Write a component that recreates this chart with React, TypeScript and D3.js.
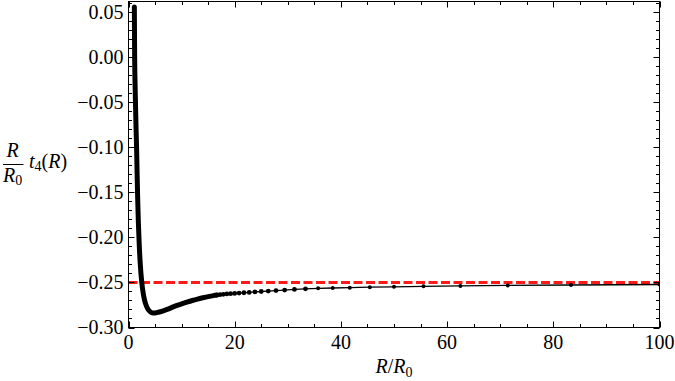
import React from 'react';
import * as d3 from 'd3';

// dense part of the curve (points merge into a thick stroke)
const denseR = [1.10, 1.13, 1.16, 1.24, 1.32, 1.42, 1.52, 1.62, 1.72, 1.85, 2.0, 2.2, 2.5, 2.8, 3.0, 3.3, 3.7, 4.2, 4.7, 5.3, 6.0, 7.0, 8.0, 9.0, 10.0, 11.0, 12.0, 13.0, 14.0, 15.0, 16.0, 16.67];
const denseT = [0.056, 0.025, 0.0, -0.03, -0.052, -0.078, -0.1, -0.128, -0.155, -0.182, -0.205, -0.228, -0.25, -0.263, -0.269, -0.275, -0.28, -0.283, -0.284, -0.2835, -0.2825, -0.2805, -0.2782, -0.2757, -0.2737, -0.2718, -0.27, -0.2684, -0.267, -0.2657, -0.2646, -0.264];

// sparse tail, individual markers visible
const tailR = [16.67, 17.24, 17.86, 18.52, 19.23, 20.0, 20.83, 21.74, 22.73, 23.81, 25.0, 26.32, 27.78, 29.41, 31.25, 33.33, 35.71, 38.46, 41.67, 45.45, 50.0, 55.56, 62.5, 71.43, 83.33, 100];
const tailT = [-0.264, -0.2635, -0.2631, -0.2627, -0.2624, -0.2621, -0.2618, -0.2614, -0.261, -0.2605, -0.26, -0.2595, -0.259, -0.2584, -0.2577, -0.257, -0.2565, -0.2561, -0.2557, -0.2552, -0.2548, -0.2543, -0.2538, -0.2533, -0.2528, -0.2522];

const xTicks = [0, 20, 40, 60, 80, 100];
const yTicks = [-0.3, -0.25, -0.2, -0.15, -0.1, -0.05, 0, 0.05];
const refLevel = -0.25;

const width = 675;
const height = 381;
const font = '"Liberation Serif"';

type Pt = [number, number];

const x = d3.scaleLinear().domain([0, 100]).range([128.5, 659.5]);
const y = d3.scaleLinear().domain([-0.3, 0.0622]).range([327.5, 1.5]);
const [x0, x1] = x.range();
const [y0, y1] = y.range();

const App = () => {
  const dense: Pt[] = denseR.map((r, i) => [r, denseT[i]]);
  const tail: Pt[] = tailR.map((r, i) => [r, tailT[i]]);

  const smooth = d3.line<Pt>().x(d => x(d[0])).y(d => y(d[1])).curve(d3.curveMonotoneX);
  const straight = d3.line<Pt>().x(d => x(d[0])).y(d => y(d[1]));

  const xMinor = d3.range(0, 101, 5).filter(v => !xTicks.includes(v));
  const yMinor = d3.range(-30, 7, 1).map(v => v / 100)
    .filter(v => !yTicks.some(t => Math.abs(t - v) < 1e-9) && y(v) >= y1);

  const xt = [...xTicks.map(v => ({ v, len: 6 })), ...xMinor.map(v => ({ v, len: 3.5 }))];
  const yt = [...yTicks.map(v => ({ v, len: 6 })), ...yMinor.map(v => ({ v, len: 3.5 }))];

  const txt = { fontFamily: font, fill: '#000' };

  return (
    <svg
      width={width}
      height={height}
      style={{ position: 'absolute', left: 0, top: 0, background: '#fff' }}
    >
      <defs>
        <clipPath id="plot-clip">
          <rect x={x0} y={y1} width={x1 - x0} height={y0 - y1} />
        </clipPath>
      </defs>

      <g clipPath="url(#plot-clip)">
        <line
          x1={x0} x2={x1} y1={y(refLevel)} y2={y(refLevel)}
          stroke="#ff1a1a" strokeWidth={3} strokeDasharray="9,3.5"
        />
        <path d={straight(tail) ?? ''} fill="none" stroke="#000" strokeWidth={1.3} />
        <path
          d={smooth(dense) ?? ''} fill="none" stroke="#000" strokeWidth={5}
          strokeLinejoin="round" strokeLinecap="round"
        />
        {tail.map((d, i) => (
          <circle key={i} cx={x(d[0])} cy={y(d[1])} r={d[0] < 34 ? 2.4 : 2} fill="#000" />
        ))}
      </g>

      <rect x={x0} y={y1} width={x1 - x0} height={y0 - y1} fill="none" stroke="#000" strokeWidth={1} />

      <g stroke="#000" strokeWidth={1}>
        {xt.map(({ v, len }) => {
          const px = Math.round(x(v)) + 0.5;
          return (
            <g key={'x' + v}>
              <line x1={px} x2={px} y1={y0} y2={y0 - len} />
              <line x1={px} x2={px} y1={y1} y2={y1 + len} />
            </g>
          );
        })}
        {yt.map(({ v, len }) => {
          const py = Math.round(y(v)) + 0.5;
          return (
            <g key={'y' + v}>
              <line x1={x0} x2={x0 + len} y1={py} y2={py} />
              <line x1={x1} x2={x1 - len} y1={py} y2={py} />
            </g>
          );
        })}
      </g>

      {yTicks.map(v => (
        <text key={'yl' + v} x={x0 - 5} y={y(v)} dy="0.34em" textAnchor="end" fontSize={20} style={txt}>
          {(v < 0 ? '\u2212' : '') + Math.abs(v).toFixed(2)}
        </text>
      ))}
      {xTicks.map(v => (
        <text key={'xl' + v} x={x(v)} y={349} textAnchor="middle" fontSize={20} style={txt}>
          {String(v)}
        </text>
      ))}

      {/* x-axis title */}
      <text x={(x0 + x1) / 2} y={373} textAnchor="middle" fontSize={20} style={txt}>
        <tspan fontStyle="italic">R</tspan>
        <tspan>/</tspan>
        <tspan fontStyle="italic">R</tspan>
        <tspan fontSize={14} dy={4}>0</tspan>
      </text>

      {/* y-axis title */}
      <g fontSize={20}>
        <text x={12.5} y={157} textAnchor="middle" fontStyle="italic" style={txt}>R</text>
        <line x1={3} x2={23.5} y1={164.5} y2={164.5} stroke="#000" strokeWidth={1} />
        <text x={3} y={181.5} style={txt}>
          <tspan fontStyle="italic">R</tspan>
          <tspan fontSize={14} dy={3}>0</tspan>
        </text>
        <text x={29} y={168} style={txt}>
          <tspan fontStyle="italic">t</tspan>
          <tspan fontSize={14} dy={3}>4</tspan>
          <tspan dy={-3}>(</tspan>
          <tspan fontStyle="italic">R</tspan>
          <tspan>)</tspan>
        </text>
      </g>
    </svg>
  );
};

export default App;
